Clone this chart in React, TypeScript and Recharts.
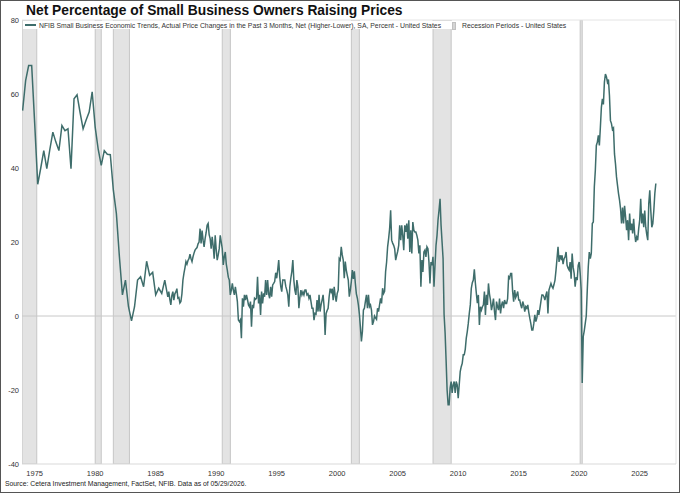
import React from "react";
import {
  LineChart,
  Line,
  XAxis,
  YAxis,
  ReferenceArea,
  ReferenceLine,
} from "recharts";

// quarterly survey readings, 1974 Q1 .. 1985 Q4
const quarterly1974to1985 = [
  55.5, 63.6, 67.7, 67.7, 52, 35.6, 40, 44.7, 39.8, 45, 49.7, 47,
  44.7, 51.5, 50.1, 50.6, 39.8, 58.7, 59.8, 55, 50.6, 53, 55.1, 60.6,
  51, 45, 40.7, 44.7, 43.7, 43.6, 34, 27.7, 16, 5.7, 9.7, 2.5,
  -1.3, 2.5, 9.7, 10.6, 7.9, 14.8, 11, 11.8, 5.7, 7.5, 6.1, 9.7,
];

// monthly readings from January 1986
const monthly1986to1995 = [
  5.2, 6.6, 4.5, 3.0, 5.5, 6.6, 4.3, 6.0, 6.5, 7.4, 4.8, 5.0,
  3.5, 3.9, 6.0, 9.7, 11.5, 13.0, 14.7, 14.0, 15.0, 15.5, 16.7, 15.5,
  14.7, 16.0, 17.0, 17.8, 18.2, 18.5, 19.5, 20.0, 23.6, 19.6, 23.1, 20.5,
  18.7, 20.9, 22.5, 24.5, 25.0, 22.0, 20.9, 18.2, 21.4, 19.0, 15.5, 21.8,
  18.0, 15.1, 16.5, 18.2, 21.8, 20.0, 18.2, 13.8, 16.0, 17.3, 14.0, 12.4,
  10.5, 9.7, 5.7, 7.0, 8.8, 7.0, 5.7, 7.9, 6.0, 3.9, -1.1, -1.5,
  -1.0, -6.0, 4.8, 2.5, 5.7, 4.3, 5.7, 4.5, 3.0, 2.5, 3.9, -2.9,
  3.0, 2.1, 4.8, 4.5, 4.8, 10.6, 3.4, 5.7, 0.3, 6.6, 3.4, 6.1,
  5.2, 9.7, 5.7, 9.7, 6.0, 4.8, 7.9, 5.2, 8.4, 8.8, 9.3, 11.7,
  10.2, 12.4, 15.1, 10.6, 8.0, 6.6, 9.7, 9.7, 9.7, 8.0, 7.0, 5.7,
];

const monthly1996to2005 = [
  2.5, 7.9, 10.2, 12.0, 15.1, 9.7, 7.0, 5.7, 9.7, 7.9, 2.1, 5.0,
  7.0, 5.7, 6.5, 5.7, 7.0, 7.0, 5.7, 6.0, 4.8, 5.7, 3.9, 2.1,
  2.1, -1.1, 0.7, 0.5, 4.3, 1.2, 5.7, 1.2, 3.0, 4.3, 5.7, 2.5,
  -5.1, 0.7, 1.5, 2.1, 5.2, 7.4, 6.5, 7.4, 4.3, 7.9, 5.5, 3.9,
  6.1, 7.0, 15.5, 15.1, 18.7, 16.5, 15.1, 10.2, 14.7, 12.4, 11.0, 9.7,
  5.2, 7.0, 9.3, 12.4, 10.0, 12.1, 8.8, 6.0, 4.8, 3.0, 0.5, -3.0,
  -6.9, -4.2, 1.6, 2.1, 4.0, 5.7, 2.1, 5.7, 2.5, 3.0, 1.6, -2.4,
  -1.5, 0.0, -0.5, -0.9, 2.1, 1.2, 3.0, 4.8, 3.4, 7.5, 6.1, 6.7,
  12.0, 14.6, 18.7, 20.9, 23.6, 28.6, 20.5, 19.7, 19.1, 18.2, 15.1, 16.4,
  17.5, 19.1, 24.5, 20.5, 24.5, 21.8, 17.8, 24.5, 22.7, 25.0, 20.9, 25.9,
];

const monthly2006to2015 = [
  17.3, 23.2, 16.9, 25.4, 23.2, 22.7, 22.7, 21.8, 20.5, 16.9, 19.1, 7.9,
  15.1, 11.9, 17.3, 17.8, 16.0, 18.7, 18.2, 14.6, 8.8, 14.6, 13.7, 16.0,
  7.9, 13.7, 19.1, 21.8, 26.0, 28.6, 31.7, 24.5, 20.0, 15.5, 0.4, -4.5,
  -12.0, -20.0, -24.0, -24.0, -19.5, -17.7, -20.8, -18.6, -17.7, -20.8, -17.7, -18.6,
  -22.2, -18.6, -15.0, -13.7, -12.8, -10.5, -10.5, -9.0, -6.0, -4.2, -2.0, 0.7,
  3.0, 7.5, 9.0, 9.7, 12.6, 9.0, 6.1, 3.5, 5.7, -2.4, 2.5, 1.6,
  2.5, 3.0, 6.6, 0.3, 5.7, 3.0, 8.8, 6.0, 4.3, 1.6, 3.0, 4.7,
  1.2, -1.1, 3.9, 2.5, 1.6, 4.7, 0.7, 3.0, 3.9, 2.1, 4.3, 3.4,
  3.4, 4.7, 10.6, 10.2, 11.5, 11.5, 6.6, 3.9, 7.0, 5.0, 5.7, 6.6,
  4.3, 4.3, 3.0, 2.1, 3.9, 3.0, 1.2, 2.5, 2.1, 3.0, 1.0, -0.6,
];

const monthly2016to2026 = [
  -2.0, -3.8, -3.8, -2.0, 0.3, -1.5, -0.5, 1.6, 0.3, 2.0, 3.9, 5.7,
  5.7, 5.2, 4.3, 5.7, 6.6, 0.7, 7.0, 7.9, 8.8, 8.0, 7.5, 8.5,
  9.7, 12.4, 15.5, 18.7, 14.6, 16.4, 15.5, 16.4, 14.0, 15.5, 16.0, 17.3,
  13.7, 12.9, 12.4, 14.6, 10.1, 16.9, 13.2, 11.5, 7.9, 10.5, 9.7, 13.7,
  14.6, 11.5, 7.0, -18.1, -5.6, -4.0, -2.0, 0.0, 7.0, 13.3, 17.3, 15.5,
  16.9, 25.0, 25.4, 34.9, 39.4, 46.1, 47.0, 48.8, 46.1, 51.0, 56.4, 58.7,
  57.2, 63.2, 65.4, 64.7, 63.2, 63.9, 59.6, 52.8, 52.0, 50.4, 50.8, 43.8,
  41.1, 37.6, 35.3, 33.1, 31.3, 29.0, 25.0, 29.3, 25.0, 29.8, 26.8, 23.2,
  25.9, 20.5, 27.7, 23.2, 25.0, 22.3, 26.3, 22.3, 20.0, 21.3, 20.5, 23.6,
  25.9, 31.7, 25.0, 27.7, 24.0, 28.5, 24.0, 22.0, 20.5, 30.4, 34.0, 28.5,
  24.0, 25.0, 28.5, 33.1, 35.8,
];

// NBER recessions (decimal years)
const recessionStarts = [1973.83, 1980.0, 1981.5, 1990.5, 2001.17, 2007.92, 2020.08];
const recessionEnds = [1975.17, 1980.5, 1982.83, 1991.17, 2001.83, 2009.42, 2020.25];

const xTicks = [1975, 1980, 1985, 1990, 1995, 2000, 2005, 2010, 2015, 2020, 2025];
const yTicks = [-40, -20, 0, 20, 40, 60, 80];

const data = [
  ...quarterly1974to1985.map((v, i) => ({ t: 1974 + i / 4, v })),
  ...monthly1986to1995.map((v, i) => ({ t: 1986 + i / 12, v })),
  ...monthly1996to2005.map((v, i) => ({ t: 1996 + i / 12, v })),
  ...monthly2006to2015.map((v, i) => ({ t: 2006 + i / 12, v })),
  ...monthly2016to2026.map((v, i) => ({ t: 2016 + i / 12, v })),
];

const FONT = '"Liberation Sans", Arial, sans-serif';
const LINE_COLOR = "#3e6d6b";
const X_MIN = 1973.95;
const X_MAX = 2028.0;

const App: React.FC = () => {
  return (
    <div
      style={{
        position: "fixed",
        left: 0,
        top: 0,
        width: 680,
        height: 493,
        background: "#fff",
        fontFamily: FONT,
        overflow: "hidden",
      }}
    >
      <LineChart
        width={680}
        height={493}
        data={data}
        margin={{ top: 20, right: 4, bottom: 0, left: 0 }}
      >
        {recessionStarts.map((s, i) => (
          <ReferenceArea
            key={s}
            x1={Math.max(s, X_MIN)}
            x2={recessionEnds[i]}
            fill="#e3e3e3"
            fillOpacity={1}
            stroke="#c6c6c6"
            strokeWidth={1}
            ifOverflow="hidden"
          />
        ))}
        <XAxis
          type="number"
          dataKey="t"
          domain={[X_MIN, X_MAX]}
          ticks={xTicks}
          allowDataOverflow
          height={29}
          tickLine={false}
          tickSize={0}
          tickMargin={7}
          axisLine={{ stroke: "#d9d9d9" }}
          tick={{ fontSize: 7.5, fill: "#333", fontFamily: FONT }}
        />
        <YAxis
          type="number"
          domain={[-40, 80]}
          ticks={yTicks}
          width={22}
          axisLine={false}
          tickLine={false}
          tickSize={0}
          tickMargin={3}
          tick={{ fontSize: 7.5, fill: "#333", fontFamily: FONT }}
        />
        <ReferenceLine y={0} stroke="#c8c8c8" strokeWidth={1} />
        <ReferenceLine y={80} stroke="#e4e4e4" strokeWidth={1} />
        <ReferenceLine x={X_MAX} stroke="#e4e4e4" strokeWidth={1} />
        <Line
          type="linear"
          dataKey="v"
          stroke={LINE_COLOR}
          strokeWidth={1.5}
          dot={false}
          isAnimationActive={false}
        />
      </LineChart>

      {/* title */}
      <div
        style={{
          position: "absolute",
          left: 26,
          top: 3.3,
          fontSize: 13.8,
          lineHeight: "16px",
          fontWeight: "bold",
          color: "#111",
          whiteSpace: "nowrap",
        }}
      >
        Net Percentage of Small Business Owners Raising Prices
      </div>

      {/* legend */}
      <div
        style={{
          position: "absolute",
          left: 23,
          top: 21,
          width: 549,
          height: 8,
          background: "#fff",
        }}
      />
      <div
        style={{
          position: "absolute",
          left: 25,
          top: 24,
          width: 11,
          height: 2,
          background: LINE_COLOR,
        }}
      />
      <div
        style={{
          position: "absolute",
          left: 39,
          top: 20.7,
          fontSize: 6.85,
          lineHeight: "9px",
          color: "#333",
          whiteSpace: "nowrap",
        }}
      >
        NFIB Small Business Economic Trends, Actual Price Changes in the Past 3
        Months, Net (Higher-Lower), SA, Percent - United States
      </div>
      <div
        style={{
          position: "absolute",
          left: 452,
          top: 22,
          width: 2,
          height: 6,
          background: "#d4d4d4",
          border: "0.5px solid #c0c0c0",
        }}
      />
      <div
        style={{
          position: "absolute",
          left: 462,
          top: 20.7,
          fontSize: 6.85,
          lineHeight: "9px",
          color: "#333",
          whiteSpace: "nowrap",
        }}
      >
        Recession Periods - United States
      </div>

      {/* source */}
      <div
        style={{
          position: "absolute",
          left: 5,
          top: 478.7,
          fontSize: 6.8,
          lineHeight: "9px",
          color: "#222",
          whiteSpace: "nowrap",
        }}
      >
        Source: Cetera Investment Management, FactSet, NFIB. Data as of
        05/29/2026.
      </div>

      {/* outer frame */}
      <div
        style={{
          position: "absolute",
          left: 0,
          top: 0,
          width: 680,
          height: 493,
          boxSizing: "border-box",
          border: "1px solid #555",
          pointerEvents: "none",
        }}
      />
    </div>
  );
};

export default App;
